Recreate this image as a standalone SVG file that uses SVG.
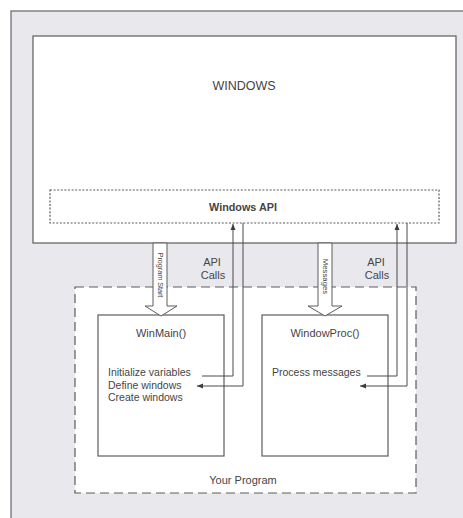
<svg xmlns="http://www.w3.org/2000/svg" width="463" height="518" viewBox="0 0 463 518">
<style>
  .box { fill: #ffffff; stroke: #5c5c5c; stroke-width: 1.2; }
  .dotted { fill: none; stroke: #5c5c5c; stroke-width: 1.2; stroke-dasharray: 2 1.6; }
  .dashed { fill: #ffffff; stroke: #5c5c5c; stroke-width: 1.2; stroke-dasharray: 9 5; }
  .block { fill: #ffffff; stroke: #5c5c5c; stroke-width: 1; }
  .line { fill: none; stroke: #4a4a4a; stroke-width: 1; }
  text { font-family: "Liberation Sans", Arial, sans-serif; fill: #454545; }
  .t11 { font-size: 11px; }
  .t10 { font-size: 10.5px; }
  .c { text-anchor: middle; }
</style>
<defs>
  <marker id="ah" viewBox="0 0 6 6" refX="6" refY="3" markerWidth="6" markerHeight="6" markerUnits="userSpaceOnUse" orient="auto">
    <path d="M0,0.5 L6,3 L0,5.5 Z" fill="#3c3c3c"/>
  </marker>
</defs>
<rect x="0" y="0" width="463" height="518" fill="#ffffff"/>
<rect id="frame" x="11" y="11" width="470" height="530" fill="#e9e9ed" stroke="#666666" stroke-width="1.2"/>

<g id="windows">
  <rect class="box" x="33" y="36" width="423" height="207"/>
  <text class="c" x="244" y="90" font-size="12.5px">WINDOWS</text>
</g>
<g id="windows-api">
  <rect class="dotted" x="50" y="190" width="389" height="33"/>
  <text class="c" x="243" y="211" font-size="10.8px" font-weight="bold" fill="#4a4a4a">Windows API</text>
</g>
<g id="your-program">
  <rect class="dashed" x="75" y="287" width="341" height="206"/>
  <text class="c t11" x="243" y="484">Your Program</text>
</g>
<g id="winmain">
  <rect class="box" x="98" y="315" width="126" height="141"/>
  <text class="c t11" x="161" y="337">WinMain()</text>
  <text class="t10" x="108" y="376">Initialize variables</text>
  <text class="t10" x="108" y="388.5">Define windows</text>
  <text class="t10" x="108" y="401">Create windows</text>
</g>
<g id="windowproc">
  <rect class="box" x="262" y="315" width="126" height="141"/>
  <text class="c t11" x="325" y="337">WindowProc()</text>
  <text class="t10" x="272" y="376">Process messages</text>
</g>

<g id="connectors">
  <g id="program-start">
    <polygon class="block" points="153,243 167,243 167,306 177,306 161,316 145,306 153,306"/>
    <text class="c" x="160" y="275" font-size="7.2px" dominant-baseline="central" transform="rotate(90 160 275)">Program Start</text>
  </g>
  <g id="messages">
    <polygon class="block" points="318,243 332,243 332,306 342,306 325,316 308,306 318,306"/>
    <text class="c" x="325" y="276.5" font-size="7.8px" dominant-baseline="central" transform="rotate(90 325 276.5)">Messages</text>
  </g>
  <polyline class="line" points="202,376 233,376 233,224" marker-end="url(#ah)"/>
  <polyline class="line" points="243,223 243,386 197,386" marker-end="url(#ah)"/>
  <polyline class="line" points="367,376 397,376 397,224" marker-end="url(#ah)"/>
  <polyline class="line" points="407,223 407,386 360,386" marker-end="url(#ah)"/>
  <text class="c t11" x="212" y="266">API</text>
  <text class="c t11" x="213" y="279">Calls</text>
  <text class="c t11" x="376" y="266">API</text>
  <text class="c t11" x="377" y="279">Calls</text>
</g>
</svg>
